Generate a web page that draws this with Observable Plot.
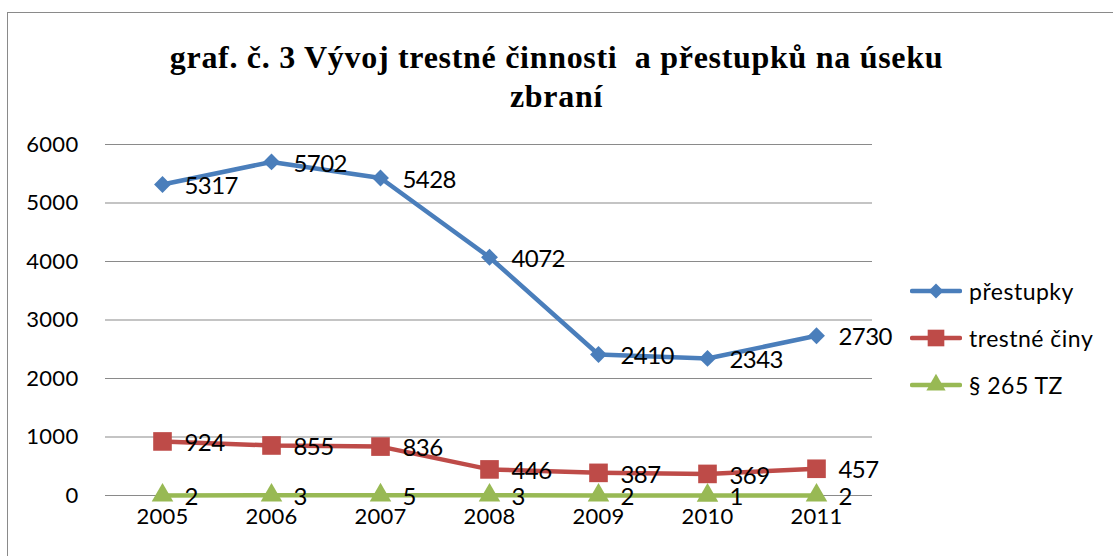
<!DOCTYPE html>
<html>
<head>
<meta charset="utf-8">
<script src="https://cdn.jsdelivr.net/npm/d3@7"></script>
<script src="https://cdn.jsdelivr.net/npm/@observablehq/plot@0.6"></script>
<style>
  html, body { margin: 0; padding: 0; background: #fff; }
  #wrap { position: relative; width: 1113px; height: 556px; overflow: hidden; }
  #frame { position: absolute; left: 7px; top: 12px; width: 1120px; height: 560px; border: 1.5px solid #8a8a8a; box-sizing: border-box; }
  #chart { position: absolute; left: 0; top: 0; }
  #title { position: absolute; left: 0; top: 38px; width: 1113px; text-align: center;
    font: bold 32px "Liberation Serif", "Times New Roman", serif; letter-spacing: 0.7px; line-height: 39px; color: #000; }
  #legend { position: absolute; left: 910px; top: 267px; font: 23px Lato, sans-serif; letter-spacing: 0.5px; color: #000; }
  #legend .item { display: flex; align-items: center; height: 47px; }
  #legend svg { margin-right: 7px; }
</style>
</head>
<body>
<div id="wrap">
  <div id="frame"></div>
  <div id="chart"></div>
  <div id="title">graf. č. 3 Vývoj trestné činnosti&nbsp; a přestupků na úseku<br>zbraní</div>
  <div id="legend"></div>
</div>
<script>
const years = ["2005", "2006", "2007", "2008", "2009", "2010", "2011"];
const prestupky = [5317, 5702, 5428, 4072, 2410, 2343, 2730];
const trestneCiny = [924, 855, 836, 446, 387, 369, 457];
const paragraf265 = [2, 3, 5, 3, 2, 1, 2];
const seriesNames = ["přestupky", "trestné činy", "§ 265 TZ"];
const seriesColors = ["#4a7ebb", "#be4b48", "#98b954"];
const seriesSymbols = ["diamond2", "square", "triangle"];
const seriesR = [7.6, 10.5, 8];
const yTicks = [0, 1000, 2000, 3000, 4000, 5000, 6000];

const allSeries = [prestupky, trestneCiny, paragraf265];
const rows = [];
allSeries.forEach((vals, si) => vals.forEach((v, i) => rows.push({year: years[i], value: v, series: seriesNames[si], si})));

const marks = [
  Plot.ruleY(yTicks, {stroke: "#8a8a8a", strokeWidth: 1.2, strokeOpacity: 1}),
  Plot.ruleX([0], {frameAnchor: "left", stroke: "#8a8a8a", strokeWidth: 1.2}),
  Plot.axisY(yTicks, {tickSize: 0, tickPadding: 27, fontSize: 22, label: null, tickFormat: d => String(d)}),
  Plot.axisX(years, {tickSize: 0, tickPadding: 13, fontSize: 22, label: null})
];
allSeries.forEach((vals, si) => {
  const data = rows.filter(r => r.si === si);
  marks.push(Plot.line(data, {x: "year", y: "value", stroke: seriesColors[si], strokeWidth: 4.5, strokeLinejoin: "round"}));
});
allSeries.forEach((vals, si) => {
  const data = rows.filter(r => r.si === si);
  marks.push(Plot.dot(data, {x: "year", y: "value", symbol: () => seriesSymbols[si], r: seriesR[si], fill: seriesColors[si], stroke: "none"}));
});
marks.push(Plot.text(rows, {x: "year", y: "value", text: d => String(d.value), dx: 22, dy: 2, textAnchor: "start", fontSize: 24}));

const chart = Plot.plot({
  width: 1113,
  height: 556,
  marginLeft: 105,
  marginRight: 241,
  marginTop: 144,
  marginBottom: 61,
  style: {fontFamily: "Lato, sans-serif", fontSize: "22px", color: "#000", background: "transparent", letterSpacing: "0.3px"},
  x: {type: "point", domain: years, padding: 0.5, label: null},
  y: {domain: [0, 6000], label: null},
  symbol: {type: "identity"},
  marks
});
chart.querySelectorAll("g[aria-label='text'] text").forEach(t => t.setAttribute("letter-spacing", "-0.6"));
document.getElementById("chart").appendChild(chart);

const legend = document.getElementById("legend");
seriesNames.forEach((name, si) => {
  const item = document.createElement("div");
  item.className = "item";
  const w = 52, h = 24;
  const svg = d3.create("svg").attr("width", w).attr("height", h);
  svg.append("line").attr("x1", 2).attr("x2", w - 2).attr("y1", h / 2).attr("y2", h / 2)
    .attr("stroke", seriesColors[si]).attr("stroke-width", 4.5).attr("stroke-linecap", "round");
  const symMap = {diamond2: d3.symbolDiamond2, square: d3.symbolSquare, triangle: d3.symbolTriangle};
  svg.append("path").attr("transform", `translate(${w / 2},${h / 2})`)
    .attr("d", d3.symbol(symMap[seriesSymbols[si]], Math.PI * seriesR[si] * seriesR[si] * 0.8)())
    .attr("fill", seriesColors[si]);
  item.appendChild(svg.node());
  const span = document.createElement("span");
  span.textContent = name;
  item.appendChild(span);
  legend.appendChild(item);
});
</script>
</body>
</html>
